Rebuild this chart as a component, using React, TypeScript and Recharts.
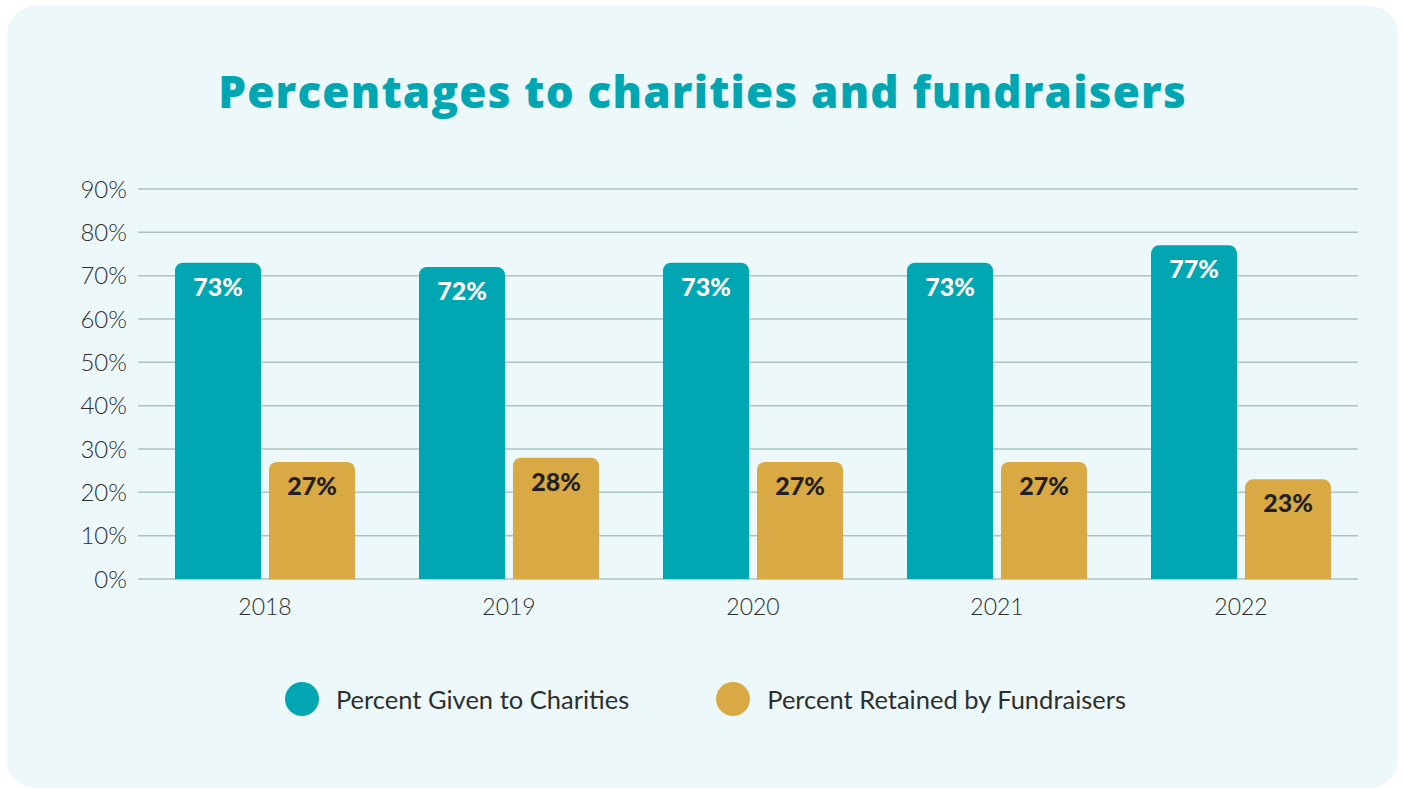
import React from "react";
import { BarChart, Bar, XAxis, YAxis, CartesianGrid, LabelList, Legend } from "recharts";

const years = ["2018", "2019", "2020", "2021", "2022"];
const givenToCharities = [73, 72, 73, 73, 77];
const retainedByFundraisers = [27, 28, 27, 27, 23];
const yTicks = [0, 10, 20, 30, 40, 50, 60, 70, 80, 90];
const seriesNames = ["Percent Given to Charities", "Percent Retained by Fundraisers"];
const titleText = "Percentages to charities and fundraisers";

const TEAL = "#00A6B1";
const GOLD = "#D9A944";
const BG = "#EDF8FA";
const GRID = "#A9C4BE";
const TEXT = "#2E2E2E";

const data = years.map((y, i) => ({
  year: y,
  given: givenToCharities[i],
  retained: retainedByFundraisers[i],
}));

const makeLabel = (color: string) => (props: any) => {
  const { x, y, width, value } = props;
  return (
    <text
      x={Number(x) + Number(width) / 2}
      y={Number(y) + 23}
      textAnchor="middle"
      dominantBaseline="central"
      fill={color}
      fontFamily="Lato"
      fontWeight={900}
      fontSize={25}
    >
      {value}%
    </text>
  );
};

const GridLine = (props: any) => {
  const { x1, x2, y1, y2 } = props;
  return <line x1={x1} x2={x2 - 5} y1={y1} y2={y2} stroke={GRID} strokeWidth={1.5} />;
};

const LegendContent = (props: any) => {
  const payload = props.payload || [];
  return (
    <div style={{ display: "flex", justifyContent: "center", alignItems: "center", width: "100%", paddingLeft: 6, boxSizing: "border-box" }}>
      {payload.map((p: any, i: number) => (
        <div key={i} style={{ display: "flex", alignItems: "center", marginLeft: i === 0 ? 0 : 87 }}>
          <div style={{ width: 34, height: 34, borderRadius: 17, background: p.color, marginRight: 17 }} />
          <span style={{ fontFamily: "Lato", fontSize: 25.5, color: TEXT, fontWeight: 400 }}>{p.value}</span>
        </div>
      ))}
    </div>
  );
};

export default function App() {
  return (
    <div style={{ position: "absolute", left: 0, top: 0, width: 1403, height: 789, background: "#FFFFFF" }}>
      <div
        style={{
          position: "absolute",
          left: 7,
          top: 6,
          width: 1391,
          height: 782,
          borderRadius: 28,
          background: BG,
          overflow: "hidden",
        }}
      >
        <div
          style={{
            position: "absolute",
            top: 57,
            left: 0,
            width: 1391,
            textAlign: "center",
            fontFamily: "'Open Sans'",
            fontWeight: 800,
            fontSize: 44,
            letterSpacing: 1.2,
            lineHeight: "56px",
            color: TEAL,
            whiteSpace: "nowrap",
          }}
        >
          {titleText}
        </div>
        <div style={{ position: "absolute", top: 0, left: 0 }}>
          <BarChart
            width={1391}
            height={782}
            data={data}
            margin={{ top: 183, right: 35, bottom: 179, left: 61 }}
            barCategoryGap={32}
            barGap={8}
          >
            <CartesianGrid vertical={false} horizontal={GridLine as any} />
            <XAxis
              dataKey="year"
              axisLine={false}
              tickLine={false}
              tickMargin={14}
              height={30}
              padding={{ left: 5, right: 0 }}
              tick={{ fill: TEXT, fontSize: 23, fontFamily: "Lato", fontWeight: 300 }}
            />
            <YAxis
              domain={[0, 90]}
              ticks={yTicks}
              interval={0}
              width={70}
              axisLine={false}
              tickLine={false}
              tickMargin={5}
              tickFormatter={(v: number) => `${v}%`}
              tick={{ fill: TEXT, fontSize: 24, fontFamily: "Lato", fontWeight: 300 }}
            />
            <Legend
              layout="horizontal"
              verticalAlign="middle"
              align="center"
              wrapperStyle={{ top: 676, left: 0, width: 1391 }}
              content={LegendContent}
            />
            <Bar dataKey="given" name={seriesNames[0]} fill={TEAL} radius={[8, 8, 0, 0]} isAnimationActive={false}>
              <LabelList dataKey="given" content={makeLabel("#FFFFFF")} />
            </Bar>
            <Bar dataKey="retained" name={seriesNames[1]} fill={GOLD} radius={[8, 8, 0, 0]} isAnimationActive={false}>
              <LabelList dataKey="retained" content={makeLabel("#231F20")} />
            </Bar>
          </BarChart>
        </div>
      </div>
    </div>
  );
}
